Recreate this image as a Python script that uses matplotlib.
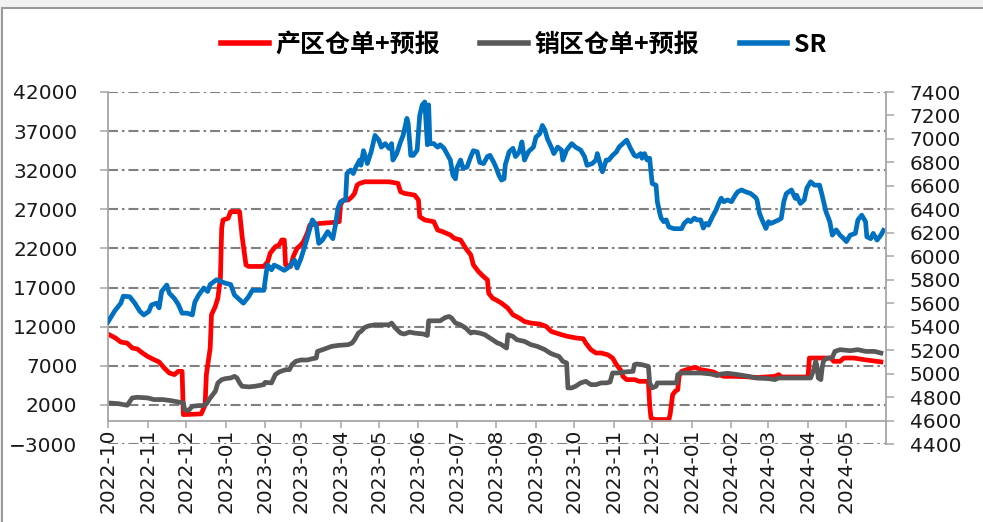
import matplotlib
matplotlib.use("Agg")
import matplotlib.pyplot as plt
import matplotlib.dates as mdates
from matplotlib.patches import Rectangle
from matplotlib.font_manager import FontProperties
import pandas as pd

plt.rcParams['font.family'] = ['DejaVu Sans']

# 产区仓单+预报 (left axis)
prod_dates = [
    "2022-10-01", "2022-10-07", "2022-10-11", "2022-10-16", "2022-10-20", "2022-10-24",
    "2022-10-28", "2022-11-01", "2022-11-06", "2022-11-10", "2022-11-14", "2022-11-18",
    "2022-11-22", "2022-11-25", "2022-11-28", "2022-11-29", "2022-12-13", "2022-12-16",
    "2022-12-17", "2022-12-20", "2022-12-21", "2022-12-24", "2022-12-26", "2022-12-28",
    "2022-12-29", "2022-12-30", "2023-01-03", "2023-01-05", "2023-01-12", "2023-01-14",
    "2023-01-17", "2023-01-19", "2023-01-31", "2023-02-03", "2023-02-05", "2023-02-09",
    "2023-02-12", "2023-02-14", "2023-02-16", "2023-02-17", "2023-02-21", "2023-02-23",
    "2023-02-26", "2023-03-01", "2023-03-03", "2023-03-06", "2023-03-08", "2023-03-16",
    "2023-03-27", "2023-03-31", "2023-04-01", "2023-04-03", "2023-04-07", "2023-04-10",
    "2023-04-12", "2023-04-14", "2023-04-16", "2023-04-20", "2023-05-09", "2023-05-16",
    "2023-05-18", "2023-05-21", "2023-05-29", "2023-06-01", "2023-06-02", "2023-06-06",
    "2023-06-13", "2023-06-16", "2023-06-20", "2023-06-26", "2023-06-29", "2023-07-04",
    "2023-07-08", "2023-07-12", "2023-07-14", "2023-07-18", "2023-07-22", "2023-07-25",
    "2023-07-26", "2023-07-29", "2023-08-01", "2023-08-05", "2023-08-10", "2023-08-14",
    "2023-08-19", "2023-08-23", "2023-08-28", "2023-09-04", "2023-09-09", "2023-09-13",
    "2023-09-17", "2023-09-21", "2023-09-26", "2023-10-03", "2023-10-08", "2023-10-10",
    "2023-10-14", "2023-10-18", "2023-10-22", "2023-10-27", "2023-10-31", "2023-11-03",
    "2023-11-07", "2023-11-08", "2023-11-11", "2023-11-17", "2023-11-21", "2023-11-28",
    "2023-11-29", "2023-11-30", "2023-12-03", "2023-12-14", "2023-12-15", "2023-12-17",
    "2023-12-19", "2023-12-21", "2023-12-22", "2023-12-24", "2023-12-28", "2024-01-01",
    "2024-01-04", "2024-01-08", "2024-01-13", "2024-01-18", "2024-01-22", "2024-01-26",
    "2024-02-03", "2024-02-11", "2024-02-22", "2024-03-06", "2024-03-09", "2024-03-11",
    "2024-04-01", "2024-04-02", "2024-04-19", "2024-04-21", "2024-04-26", "2024-04-29",
    "2024-05-07", "2024-05-15", "2024-05-25", "2024-05-28",
]
prod_values = [
    11050, 10540, 10030, 9900, 9270, 9140,
    8630, 8200, 7780, 7490, 6720, 6080,
    5870, 6290, 6290, 760, 850, 1990,
    5870, 9270, 13520, 14580, 15650, 18200,
    24580, 25640, 25850, 26700, 26700, 23500,
    19900, 19700, 19700, 20300, 21400, 22230,
    22450, 23080, 23080, 19900, 19700, 20950,
    22020, 22450, 22870, 23940, 25000, 25200,
    25340, 25420, 27550, 28190, 28190, 28610,
    29040, 30100, 30320, 30520, 30520, 30320,
    29250, 29040, 28820, 28190, 26060, 25640,
    25420, 24360, 24140, 23720, 23300, 23080,
    22020, 21170, 19900, 19040, 18400, 17980,
    16280, 15650, 15400, 15010, 14370, 13520,
    13100, 12660, 12460, 12330, 12030, 11390,
    11180, 10970, 10750, 10540, 10460, 9900,
    9060, 8630, 8630, 8420, 7990, 7140,
    6290, 5650, 5230, 5230, 5010, 5010,
    2040, 340, 130, 130, 760, 3310,
    3735, 3950, 5650, 6290, 6500, 6720,
    6800, 6500, 6370, 6200, 5870, 5650,
    5650, 5610, 5500, 5650, 5870, 5570,
    5570, 7990, 7990, 7570, 7570, 7990,
    7990, 7780, 7570, 7500,
]

# 销区仓单+预报 (left axis)
sales_dates = [
    "2022-10-01", "2022-10-09", "2022-10-16", "2022-10-20", "2022-10-24", "2022-11-01",
    "2022-11-06", "2022-11-13", "2022-11-19", "2022-11-26", "2022-11-29", "2022-11-30",
    "2022-12-03", "2022-12-06", "2022-12-11", "2022-12-14", "2022-12-17", "2022-12-20",
    "2022-12-24", "2022-12-26", "2022-12-29", "2023-01-01", "2023-01-05", "2023-01-08",
    "2023-01-10", "2023-01-12", "2023-01-14", "2023-01-19", "2023-01-24", "2023-01-31",
    "2023-02-01", "2023-02-06", "2023-02-09", "2023-02-12", "2023-02-17", "2023-02-20",
    "2023-02-22", "2023-02-25", "2023-03-01", "2023-03-06", "2023-03-10", "2023-03-13",
    "2023-03-14", "2023-03-18", "2023-03-25", "2023-03-30", "2023-04-07", "2023-04-10",
    "2023-04-12", "2023-04-15", "2023-04-17", "2023-04-20", "2023-04-23", "2023-04-28",
    "2023-05-09", "2023-05-11", "2023-05-14", "2023-05-18", "2023-05-21", "2023-05-25",
    "2023-05-29", "2023-06-05", "2023-06-08", "2023-06-09", "2023-06-18", "2023-06-22",
    "2023-06-25", "2023-06-27", "2023-06-30", "2023-07-04", "2023-07-08", "2023-07-12",
    "2023-07-14", "2023-07-19", "2023-07-23", "2023-07-29", "2023-08-02", "2023-08-04",
    "2023-08-07", "2023-08-09", "2023-08-10", "2023-08-14", "2023-08-17", "2023-08-23",
    "2023-08-28", "2023-09-02", "2023-09-08", "2023-09-12", "2023-09-15", "2023-09-19",
    "2023-09-22", "2023-09-25", "2023-09-26", "2023-09-29", "2023-10-02", "2023-10-06",
    "2023-10-10", "2023-10-14", "2023-10-18", "2023-10-22", "2023-10-26", "2023-10-29",
    "2023-10-31", "2023-11-04", "2023-11-09", "2023-11-16", "2023-11-17", "2023-11-19",
    "2023-11-23", "2023-11-28", "2023-11-29", "2023-12-01", "2023-12-04", "2023-12-05",
    "2023-12-20", "2023-12-21", "2023-12-23", "2024-01-08", "2024-01-16", "2024-01-21",
    "2024-01-24", "2024-01-29", "2024-02-06", "2024-02-14", "2024-02-20", "2024-03-01",
    "2024-03-06", "2024-03-09", "2024-04-03", "2024-04-05", "2024-04-07", "2024-04-08",
    "2024-04-09", "2024-04-11", "2024-04-12", "2024-04-13", "2024-04-15", "2024-04-20",
    "2024-04-22", "2024-04-26", "2024-05-04", "2024-05-10", "2024-05-16", "2024-05-23",
    "2024-05-28",
]
sales_values = [
    2250, 2160, 1950, 2890, 2970, 2890,
    2680, 2680, 2550, 2330, 2250, 1400,
    1280, 1820, 1910, 1910, 2120, 2890,
    3730, 4810, 5230, 5360, 5440, 5650,
    5440, 4810, 4380, 4300, 4380, 4590,
    4880, 4810, 5870, 6210, 6500, 6500,
    7140, 7570, 7740, 7740, 7910, 7990,
    8840, 9060, 9480, 9600, 9700, 9900,
    10330, 11180, 11390, 11900, 12100, 12240,
    12240, 12460, 11820, 11180, 11060, 11310,
    11180, 11060, 10880, 12750, 12750, 13170,
    13300, 13100, 12460, 12240, 11820, 11180,
    11310, 11180, 10970, 10330, 9900, 9800,
    9480, 9270, 10970, 10750, 10330, 10120,
    9700, 9480, 9060, 8630, 8420, 8200,
    7570, 7360, 4170, 4170, 4380, 4810,
    5010, 4590, 4590, 4810, 4810, 4920,
    6080, 6080, 6200, 6290, 7140, 7230,
    7140, 6920, 4810, 4170, 4380, 4810,
    4810, 5870, 6080, 6080, 5950, 5740,
    5950, 6040, 5870, 5650, 5440, 5360,
    5230, 5440, 5440, 6290, 7570, 6920,
    5440, 5230, 6720, 7570, 7910, 8070,
    8840, 9060, 8930, 9060, 8840, 8840,
    8630,
]

# SR (right axis)
sr_dates = [
    "2022-10-01", "2022-10-06", "2022-10-11", "2022-10-13", "2022-10-18", "2022-10-22",
    "2022-10-26", "2022-10-29", "2022-11-02", "2022-11-04", "2022-11-08", "2022-11-10",
    "2022-11-12", "2022-11-16", "2022-11-18", "2022-11-22", "2022-11-25", "2022-11-28",
    "2022-12-02", "2022-12-06", "2022-12-08", "2022-12-11", "2022-12-15", "2022-12-18",
    "2022-12-20", "2022-12-25", "2023-01-01", "2023-01-05", "2023-01-08", "2023-01-12",
    "2023-01-15", "2023-01-19", "2023-01-22", "2023-01-31", "2023-02-02", "2023-02-03",
    "2023-02-06", "2023-02-08", "2023-02-11", "2023-02-16", "2023-02-20", "2023-02-24",
    "2023-02-26", "2023-03-01", "2023-03-05", "2023-03-10", "2023-03-13", "2023-03-15",
    "2023-03-18", "2023-03-22", "2023-03-26", "2023-03-28", "2023-03-30", "2023-04-01",
    "2023-04-05", "2023-04-06", "2023-04-09", "2023-04-11", "2023-04-13", "2023-04-16",
    "2023-04-17", "2023-04-19", "2023-04-22", "2023-04-25", "2023-04-28", "2023-05-01",
    "2023-05-03", "2023-05-06", "2023-05-09", "2023-05-11", "2023-05-12", "2023-05-15",
    "2023-05-18", "2023-05-20", "2023-05-23", "2023-05-24", "2023-05-26", "2023-05-28",
    "2023-05-31", "2023-06-02", "2023-06-04", "2023-06-06", "2023-06-08", "2023-06-09",
    "2023-06-10", "2023-06-13", "2023-06-16", "2023-06-18", "2023-06-21", "2023-06-24",
    "2023-06-26", "2023-06-28", "2023-06-30", "2023-07-01", "2023-07-04", "2023-07-06",
    "2023-07-09", "2023-07-12", "2023-07-14", "2023-07-17", "2023-07-19", "2023-07-22",
    "2023-07-25", "2023-07-27", "2023-07-30", "2023-08-01", "2023-08-03", "2023-08-05",
    "2023-08-07", "2023-08-08", "2023-08-11", "2023-08-14", "2023-08-16", "2023-08-19",
    "2023-08-21", "2023-08-23", "2023-08-26", "2023-08-30", "2023-09-01", "2023-09-04",
    "2023-09-06", "2023-09-08", "2023-09-10", "2023-09-13", "2023-09-15", "2023-09-18",
    "2023-09-21", "2023-09-22", "2023-09-25", "2023-09-29", "2023-10-02", "2023-10-06",
    "2023-10-09", "2023-10-11", "2023-10-15", "2023-10-18", "2023-10-19", "2023-10-22",
    "2023-10-23", "2023-10-26", "2023-10-28", "2023-10-31", "2023-11-03", "2023-11-05",
    "2023-11-08", "2023-11-11", "2023-11-14", "2023-11-17", "2023-11-19", "2023-11-22",
    "2023-11-23", "2023-11-25", "2023-11-27", "2023-11-29", "2023-11-30", "2023-12-01",
    "2023-12-04", "2023-12-05", "2023-12-07", "2023-12-08", "2023-12-10", "2023-12-12",
    "2023-12-14", "2023-12-18", "2023-12-24", "2023-12-26", "2023-12-29", "2023-12-31",
    "2024-01-03", "2024-01-05", "2024-01-08", "2024-01-10", "2024-01-12", "2024-01-14",
    "2024-01-17", "2024-01-20", "2024-01-22", "2024-01-24", "2024-01-26", "2024-01-29",
    "2024-02-01", "2024-02-04", "2024-02-06", "2024-02-09", "2024-02-12", "2024-02-16",
    "2024-02-20", "2024-02-21", "2024-02-23", "2024-02-25", "2024-02-28", "2024-03-01",
    "2024-03-03", "2024-03-06", "2024-03-09", "2024-03-11", "2024-03-13", "2024-03-15",
    "2024-03-19", "2024-03-22", "2024-03-23", "2024-03-26", "2024-03-29", "2024-03-31",
    "2024-04-03", "2024-04-06", "2024-04-10", "2024-04-12", "2024-04-15", "2024-04-18",
    "2024-04-20", "2024-04-23", "2024-04-26", "2024-04-29", "2024-05-01", "2024-05-04",
    "2024-05-08", "2024-05-10", "2024-05-13", "2024-05-16", "2024-05-17", "2024-05-20",
    "2024-05-22", "2024-05-25", "2024-05-28", "2024-05-30",
]
sr_values = [
    5440, 5530, 5600, 5660, 5655, 5600,
    5530, 5500, 5530, 5585, 5600, 5560,
    5700, 5755, 5685, 5640, 5590, 5515,
    5515, 5500, 5610, 5670, 5730, 5700,
    5760, 5800, 5770, 5760, 5670, 5630,
    5600, 5655, 5710, 5710, 5870, 5925,
    5885, 5925, 5910, 5880, 5910, 5967,
    5900, 5980, 6120, 6310, 6265, 6110,
    6140, 6210, 6150, 6265, 6410, 6465,
    6480, 6705, 6735, 6705, 6760, 6820,
    6776, 6900, 6790, 6890, 7030, 6990,
    6930, 6960, 6920, 6960, 6820, 6875,
    6975, 7030, 7175, 7130, 6860, 6860,
    6905, 7200, 7290, 7315, 6950, 7290,
    6960, 6960, 6930, 6950, 6920, 6860,
    6820, 6690, 6660, 6750, 6820, 6750,
    6760, 6850, 6900, 6890, 6800, 6790,
    6850, 6860, 6800, 6750, 6690, 6650,
    6660, 6780, 6890, 6920, 6850, 6890,
    6975, 6820, 6890, 6930, 7015, 7045,
    7115, 7075, 7000, 6930, 6875, 6930,
    6905, 6820, 6905, 6960, 6930, 6905,
    6850, 6775, 6790, 6820, 6875, 6760,
    6720, 6820, 6820, 6860, 6890, 6930,
    6960, 6990, 6920, 6860, 6850, 6875,
    6835, 6875, 6820, 6835, 6720, 6620,
    6605, 6465, 6365, 6325, 6295, 6310,
    6250, 6235, 6235, 6280, 6310, 6295,
    6325, 6310, 6310, 6240, 6280, 6265,
    6335, 6395, 6450, 6495, 6465, 6480,
    6465, 6520, 6550, 6565, 6550, 6535,
    6500, 6480, 6365, 6310, 6237, 6295,
    6280, 6295, 6310, 6323, 6465, 6535,
    6565, 6493, 6520, 6450, 6480, 6580,
    6635, 6606, 6606, 6520, 6380, 6295,
    6180, 6225, 6180, 6150, 6125, 6180,
    6195, 6310, 6350, 6295, 6166, 6150,
    6195, 6138, 6180, 6220,
]

month_ticks = pd.date_range("2022-10-01", "2024-05-01", freq="MS")

RED = "#FF0000"
GRAY = "#595959"
BLUE = "#0070C0"
AXIS_GRAY = "#a6a6a6"

fig = plt.figure(figsize=(9.83, 5.22), dpi=100)
fig.patch.set_facecolor("#f2f2f2")
fig.patches.append(Rectangle((2 / 983, -0.05), 1.0, 0.9847 + 0.05,
                             transform=fig.transFigure, facecolor="white",
                             edgecolor="#9a9a9a", lw=1.5, zorder=-1))

ax = fig.add_axes([108 / 983, 1 - 444 / 522, (886 - 108) / 983, (444 - 92) / 522])
ax2 = ax.twinx()

l1, = ax.plot(pd.to_datetime(prod_dates), prod_values, color=RED, lw=3.4,
              solid_joinstyle="round", label="产区仓单+预报")
l2, = ax.plot(pd.to_datetime(sales_dates), sales_values, color=GRAY, lw=3.4,
              solid_joinstyle="round", label="销区仓单+预报")
l3, = ax2.plot(pd.to_datetime(sr_dates), sr_values, color=BLUE, lw=3.4,
               solid_joinstyle="round", label="SR")

# left axis
ax.set_ylim(-3000, 42000)
ax.set_yticks(range(-3000, 42001, 5000))
ax.yaxis.grid(True, color="#808080", lw=1.5, linestyle=(0, (4.8, 1.9, 1.2, 1.9)))
ax.set_axisbelow(True)
ax.set_xlim(pd.Timestamp("2022-10-01"), pd.Timestamp("2024-06-01"))
ax.set_xticks(month_ticks)
ax.xaxis.set_major_formatter(mdates.DateFormatter("%Y-%m"))

for side in ("top", "right"):
    ax.spines[side].set_visible(False)
ax.spines["left"].set_bounds(0, 42000)
ax.spines["left"].set_color(AXIS_GRAY)
ax.spines["left"].set_linewidth(1.3)
ax.spines["bottom"].set_position(("data", 0))
ax.spines["bottom"].set_color(AXIS_GRAY)
ax.spines["bottom"].set_linewidth(1.3)

ax.tick_params(axis="y", direction="out", length=6, width=1.1, color=AXIS_GRAY,
               labelcolor="#1a1a1a", labelsize=14.5, pad=16)
ax.tick_params(axis="x", direction="out", length=5, width=1.1, color=AXIS_GRAY,
               labelcolor="#1a1a1a", labelsize=14.5, pad=1, labelrotation=90)
ax.yaxis.get_major_ticks()[0].tick1line.set_visible(False)

# right axis
ax2.set_ylim(4400, 7400)
ax2.set_yticks(range(4400, 7401, 200))
for side in ("top", "left", "bottom"):
    ax2.spines[side].set_visible(False)
ax2.spines["right"].set_color(AXIS_GRAY)
ax2.spines["right"].set_linewidth(1.3)
ax2.tick_params(axis="y", direction="out", length=6, width=1.1, color=AXIS_GRAY,
                labelcolor="#1a1a1a", labelsize=14.5, pad=11)

leg_font = FontProperties(family=["Noto Sans CJK SC", "DejaVu Sans"], weight="bold", size=18)
leg = fig.legend(handles=[l1, l2, l3], loc="center", bbox_to_anchor=(0.533, 0.914),
                 ncol=3, frameon=False, prop=leg_font, handlelength=1.9,
                 handletextpad=0.28, columnspacing=1.6)
for h in leg.legend_handles:
    h.set_linewidth(4.0)

fig.savefig("out.png", dpi=100)
